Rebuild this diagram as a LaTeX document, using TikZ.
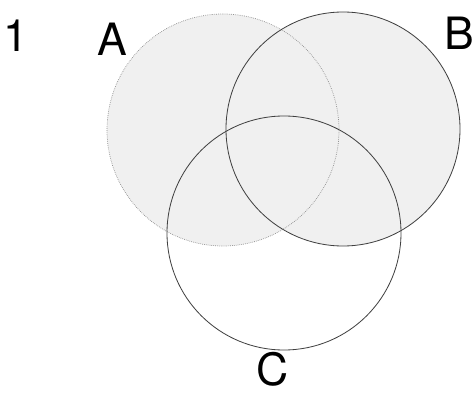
\documentclass[tikz,border=0pt]{standalone}
\usepackage{fontspec}
\setsansfont{TeX Gyre Heros}
\usetikzlibrary{positioning}
\tikzset{
  setline/.style={line width=0.7pt, draw=black!75},
  faintline/.style={line width=0.6pt, draw=black!45, densely dotted},
  shade/.style={fill=gray!12},
  letter/.style={font=\sffamily\fontsize{38}{42}\selectfont, inner sep=0pt},
}

\begin{document}
\begin{tikzpicture}[x=0.03cm, y=-0.03cm]
  \useasboundingbox (0,0) rectangle (474,397);
  % centres of the three sets
  \coordinate (cA) at (223,130);
  \coordinate (cB) at (343,129);
  \coordinate (cC) at (284,233);
  % shaded union of A and B
  \fill[shade] (cA) circle (116) (cB) circle (117);
  % outlines
  \draw[faintline] (cA) circle (116);
  \draw[setline] (cB) circle (117);
  \draw[setline] (cC) circle (117);
  % labels
  \node[letter] (num) at (16,36) {1};
  \node[letter] (lA) at (112,39) {A};
  \node[letter] (lB) at (459,33) {B};
  \node[letter] (lC) at (273,369) {C};
\end{tikzpicture}
\end{document}
